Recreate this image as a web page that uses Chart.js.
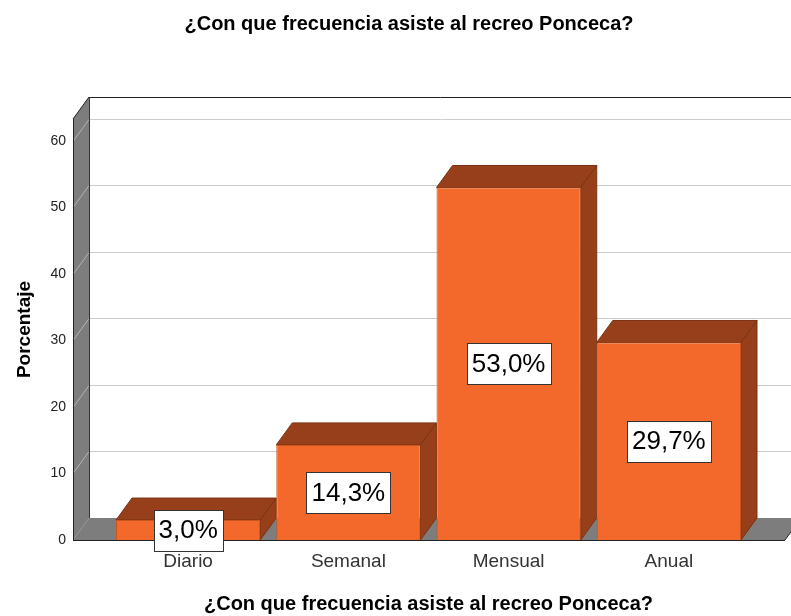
<!DOCTYPE html>
<html>
<head>
<meta charset="utf-8">
<script src="https://cdn.jsdelivr.net/npm/chart.js@4"></script>
<style>
  html, body { margin: 0; padding: 0; background: #fff; }
  #wrap { width: 791px; height: 616px; }
</style>
</head>
<body>
<div id="wrap"><canvas id="chart"></canvas></div>
<script>
const categories  = ["Diario", "Semanal", "Mensual", "Anual"];
const percentages = [3.0, 14.3, 53.0, 29.7];
const valueLabels = ["3,0%", "14,3%", "53,0%", "29,7%"];
const yTicks      = [0, 10, 20, 30, 40, 50, 60];
const titleText   = "¿Con que frecuencia asiste al recreo Ponceca?";

const FONT = "'Liberation Sans', Arial, sans-serif";
const FRONT = "#f2692b";
const DARK  = "#963f1a";
const WALL  = "#7d7d7d";
const depth = { dx: 16, dy: 22 };
const wallX = 73;        // front edge of the left wall
const floorRight = 785;  // front right corner of the floor

function line(ctx, x1, y1, x2, y2, color) {
  ctx.strokeStyle = color;
  ctx.beginPath();
  ctx.moveTo(x1, y1);
  ctx.lineTo(x2, y2);
  ctx.stroke();
}

function poly(ctx, pts, fill, stroke) {
  ctx.beginPath();
  ctx.moveTo(pts[0][0], pts[0][1]);
  pts.slice(1).forEach(p => ctx.lineTo(p[0], p[1]));
  ctx.closePath();
  ctx.fillStyle = fill;
  ctx.fill();
  if (stroke) { ctx.strokeStyle = stroke; ctx.stroke(); }
}

// walls, floor, gridlines and the 3D faces of the bars
const box3d = {
  id: "box3d",
  afterLayout(chart) {
    if (chart.titleBlock) {
      chart.titleBlock.left = 27;
      chart.titleBlock.right = chart.width;
    }
  },
  beforeDatasetsDraw(chart) {
    const { ctx, chartArea: a, scales: { y } } = chart;
    const { dx, dy } = depth;
    const top = a.top, base = a.bottom;
    const far = chart.width + 20;
    ctx.save();
    ctx.lineWidth = 1;

    // back wall
    ctx.fillStyle = "#fff";
    ctx.fillRect(wallX + dx, top - dy, far, base - top);

    // left wall
    poly(ctx, [[wallX, top], [wallX + dx, top - dy], [wallX + dx, base - dy], [wallX, base]], WALL);

    // gridlines
    yTicks.forEach(v => {
      if (v === 0) return;
      const py = Math.round(y.getPixelForValue(v)) + 0.5;
      line(ctx, wallX, py, wallX + dx, py - dy, "#b4b4b4");
      line(ctx, wallX + dx, py - dy, far, py - dy, "#cccccc");
    });

    // floor
    poly(ctx, [[wallX, base], [wallX + dx, base - dy], [floorRight + dx, base - dy], [floorRight, base]], WALL);

    // outlines
    line(ctx, wallX + dx, top - dy + 0.5, far, top - dy + 0.5, "#222");
    line(ctx, wallX + 0.5, top, wallX + 0.5, base, "#222");
    line(ctx, wallX, top, wallX + dx, top - dy, "#222");
    line(ctx, wallX + dx + 0.5, top - dy, wallX + dx + 0.5, base - dy, "#333");
    line(ctx, wallX, base + 0.5, floorRight, base + 0.5, "#222");
    line(ctx, floorRight, base, floorRight + dx, base - dy, "#222");

    // bar tops and sides
    chart.getDatasetMeta(0).data.forEach(el => {
      const { x, y: ty, base: bb, width } = el.getProps(["x", "y", "base", "width"], true);
      const l = x - width / 2, r = x + width / 2;
      poly(ctx, [[l, ty], [l + dx, ty - dy], [r + dx, ty - dy], [r, ty]], DARK, "#7a3212");
      poly(ctx, [[r, ty], [r + dx, ty - dy], [r + dx, bb - dy], [r, bb]], DARK, "#7a3212");
    });
    ctx.restore();
  },
  afterDatasetsDraw(chart) {
    const { ctx } = chart;
    ctx.save();
    ctx.font = "26px " + FONT;
    ctx.textAlign = "center";
    ctx.textBaseline = "middle";
    ctx.lineWidth = 1;
    chart.getDatasetMeta(0).data.forEach((el, i) => {
      const { x, y: ty, base: bb } = el.getProps(["x", "y", "base"], true);
      const cy = (ty + bb) / 2;
      const w = Math.round(ctx.measureText(valueLabels[i]).width) + 10;
      const h = 41;
      const bx = Math.round(x - w / 2) + 0.5, by = Math.round(cy - h / 2) + 0.5;
      ctx.fillStyle = "#fff";
      ctx.fillRect(bx, by, w, h);
      ctx.strokeStyle = "#333";
      ctx.strokeRect(bx, by, w, h);
      ctx.fillStyle = "#000";
      ctx.fillText(valueLabels[i], x, cy + 1);
    });
    ctx.restore();
  }
};

new Chart(document.getElementById("chart"), {
  type: "bar",
  data: {
    labels: categories,
    datasets: [{
      data: percentages,
      backgroundColor: FRONT,
      borderColor: "#c9561f",
      borderWidth: 1,
      barPercentage: 0.9,
      categoryPercentage: 1
    }]
  },
  options: {
    responsive: true,
    maintainAspectRatio: false,
    animation: false,
    layout: { padding: { left: 0, right: 42, top: 0, bottom: 0 } },
    plugins: {
      legend: { display: false },
      tooltip: { enabled: false },
      title: {
        display: true,
        text: titleText,
        color: "#000",
        font: { family: FONT, size: 20, weight: "bold" },
        padding: { top: 12, bottom: 83 }
      }
    },
    scales: {
      x: {
        grid: { display: false, drawTicks: false },
        border: { display: false },
        ticks: { color: "#333", font: { family: FONT, size: 19 }, padding: 10 },
        title: {
          display: true,
          text: titleText,
          color: "#000",
          font: { family: FONT, size: 20, weight: "bold" },
          padding: { top: 0, bottom: 0 }
        },
        afterFit: s => { s.height = 76; }
      },
      y: {
        min: 0,
        max: 63.3,
        grid: { display: false, drawTicks: false },
        border: { display: false },
        ticks: { color: "#222", font: { family: FONT, size: 14 }, padding: 42, includeBounds: false },
        afterBuildTicks: s => { s.ticks = yTicks.map(v => ({ value: v })); },
        title: {
          display: true,
          text: "Porcentaje",
          color: "#000",
          font: { family: FONT, size: 19, weight: "bold" },
          padding: { top: 13, bottom: 0 }
        },
        afterFit: s => { s.width = 108; }
      }
    }
  },
  plugins: [box3d]
});
</script>
</body>
</html>
